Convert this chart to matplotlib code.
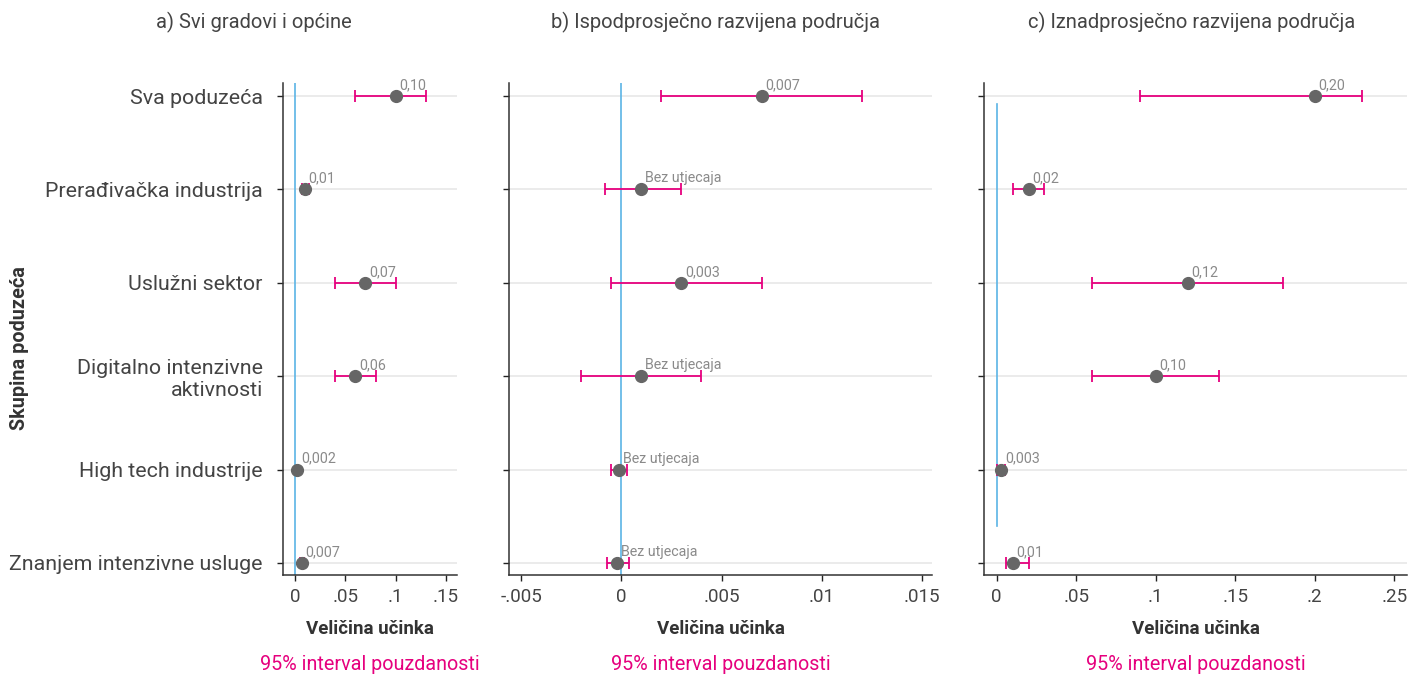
import matplotlib
matplotlib.use("Agg")
import matplotlib.pyplot as plt
from matplotlib.ticker import FixedLocator

plt.rcParams["font.family"] = ["Roboto", "DejaVu Sans"]

# categories, top to bottom
categories = [
    "Sva poduzeća",
    "Prerađivačka industrija",
    "Uslužni sektor",
    "Digitalno intenzivne\naktivnosti",
    "High tech industrije",
    "Znanjem intenzivne usluge",
]

titles = [
    "a) Svi gradovi i općine",
    "b) Ispodprosječno razvijena područja",
    "c) Iznadprosječno razvijena područja",
]

# panel a
est_a = [0.10, 0.010, 0.070, 0.060, 0.0023, 0.007]
lo_a = [0.060, 0.0067, 0.040, 0.040, 0.0015, 0.005]
hi_a = [0.130, 0.0143, 0.100, 0.080, 0.0031, 0.009]
lab_a = ["0,10", "0,01", "0,07", "0,06", "0,002", "0,007"]

# panel b
est_b = [0.0070, 0.0010, 0.0030, 0.0010, -0.0001, -0.0002]
lo_b = [0.0020, -0.0008, -0.0005, -0.0020, -0.0005, -0.0007]
hi_b = [0.0120, 0.0030, 0.0070, 0.0040, 0.0003, 0.0004]
lab_b = ["0,007", "Bez utjecaja", "0,003", "Bez utjecaja", "Bez utjecaja", "Bez utjecaja"]

# panel c
est_c = [0.200, 0.020, 0.120, 0.100, 0.003, 0.010]
lo_c = [0.090, 0.010, 0.060, 0.060, 0.000, 0.006]
hi_c = [0.230, 0.030, 0.180, 0.140, 0.005, 0.020]
lab_c = ["0,20", "0,02", "0,12", "0,10", "0,003", "0,01"]

ticks_a = [0, 0.05, 0.10, 0.15]
ticklab_a = ["0", ".05", ".1", ".15"]
ticks_b = [-0.005, 0, 0.005, 0.010, 0.015]
ticklab_b = ["-.005", "0", ".005", ".01", ".015"]
ticks_c = [0, 0.05, 0.10, 0.15, 0.20, 0.25]
ticklab_c = ["0", ".05", ".1", ".15", ".2", ".25"]

MAGENTA = "#E6007E"
BLUE = "#5BB4E5"
POINT = "#666666"
LABEL = "#8a8a8a"
TEXT = "#444444"

W, H = 1410, 675
fig = plt.figure(figsize=(W / 100, H / 100), dpi=100)

# axes boxes in pixels: left, right
boxes = [(283, 457), (509, 932), (984, 1407)]
top, bottom = 83, 575

panels = [
    (est_a, lo_a, hi_a, lab_a, ticks_a, ticklab_a, (-0.012, 0.161), None),
    (est_b, lo_b, hi_b, lab_b, ticks_b, ticklab_b, (-0.0056, 0.0155), None),
    (est_c, lo_c, hi_c, lab_c, ticks_c, ticklab_c, (-0.008, 0.258), (0.09, 4.6)),
]

ypos = list(range(len(categories)))

for i, ((l, r), panel) in enumerate(zip(boxes, panels)):
    est, lo, hi, labs, ticks, ticklabs, xlim, vspan = panel
    ax = fig.add_axes([l / W, 1 - bottom / H, (r - l) / W, (bottom - top) / H])

    for y in ypos:
        ax.axhline(y, color="#e8e8e8", lw=1.2, zorder=0)

    # reference line at zero (shorter in panel c)
    if vspan is None:
        ax.axvline(0, color=BLUE, lw=1.2, zorder=1)
    else:
        ax.plot([0, 0], vspan, color=BLUE, lw=1.2, zorder=1)

    xerr = [[e - a for e, a in zip(est, lo)], [b - e for e, b in zip(est, hi)]]
    ax.errorbar(est, ypos, xerr=xerr, fmt="none", ecolor=MAGENTA, elinewidth=1.3,
                capsize=4.5, capthick=1.3, zorder=2)
    ax.plot(est, ypos, "o", color=POINT, markersize=8.5, zorder=3)

    for x, y, t in zip(est, ypos, labs):
        ax.annotate(t, (x, y), xytext=(2.5, 5), textcoords="offset points",
                    ha="left", va="baseline", fontsize=10.3, color=LABEL)

    ax.set_xlim(*xlim)
    ax.set_ylim(len(categories) - 1 + 0.13, -0.14)
    ax.xaxis.set_major_locator(FixedLocator(ticks))
    ax.set_xticklabels(ticklabs, fontsize=13.5, color=TEXT)
    ax.set_yticks(ypos)
    if i == 0:
        ax.set_yticklabels(categories, fontsize=15.4, color=TEXT)
    else:
        ax.set_yticklabels([])
    ax.tick_params(axis="y", length=4.5, width=1, color="#222222", pad=10)
    ax.tick_params(axis="x", length=4.5, width=1, color="#222222", pad=5)

    for s in ("top", "right"):
        ax.spines[s].set_visible(False)
    for s in ("left", "bottom"):
        ax.spines[s].set_color("#333333")
        ax.spines[s].set_linewidth(1.1)

    cx = (l + r) / 2 / W
    fig.text(cx, 1 - 629 / H, "Veličina učinka", ha="center", va="center",
             fontsize=13.5, fontweight="bold", color="#333333")
    fig.text(cx, 1 - 665 / H, "95% interval pouzdanosti", ha="center", va="center",
             fontsize=14.2, color=MAGENTA)

title_x = [254, 716, 1192]
for tx, t in zip(title_x, titles):
    fig.text(tx / W, 1 - 22 / H, t, ha="center", va="center", fontsize=14.5,
             color=TEXT)

fig.text(20 / W, 1 - 348 / H, "Skupina poduzeća", rotation=90, ha="center", va="center",
         fontsize=14.3, fontweight="bold", color="#333333")

fig.savefig("out.png", dpi=100)
